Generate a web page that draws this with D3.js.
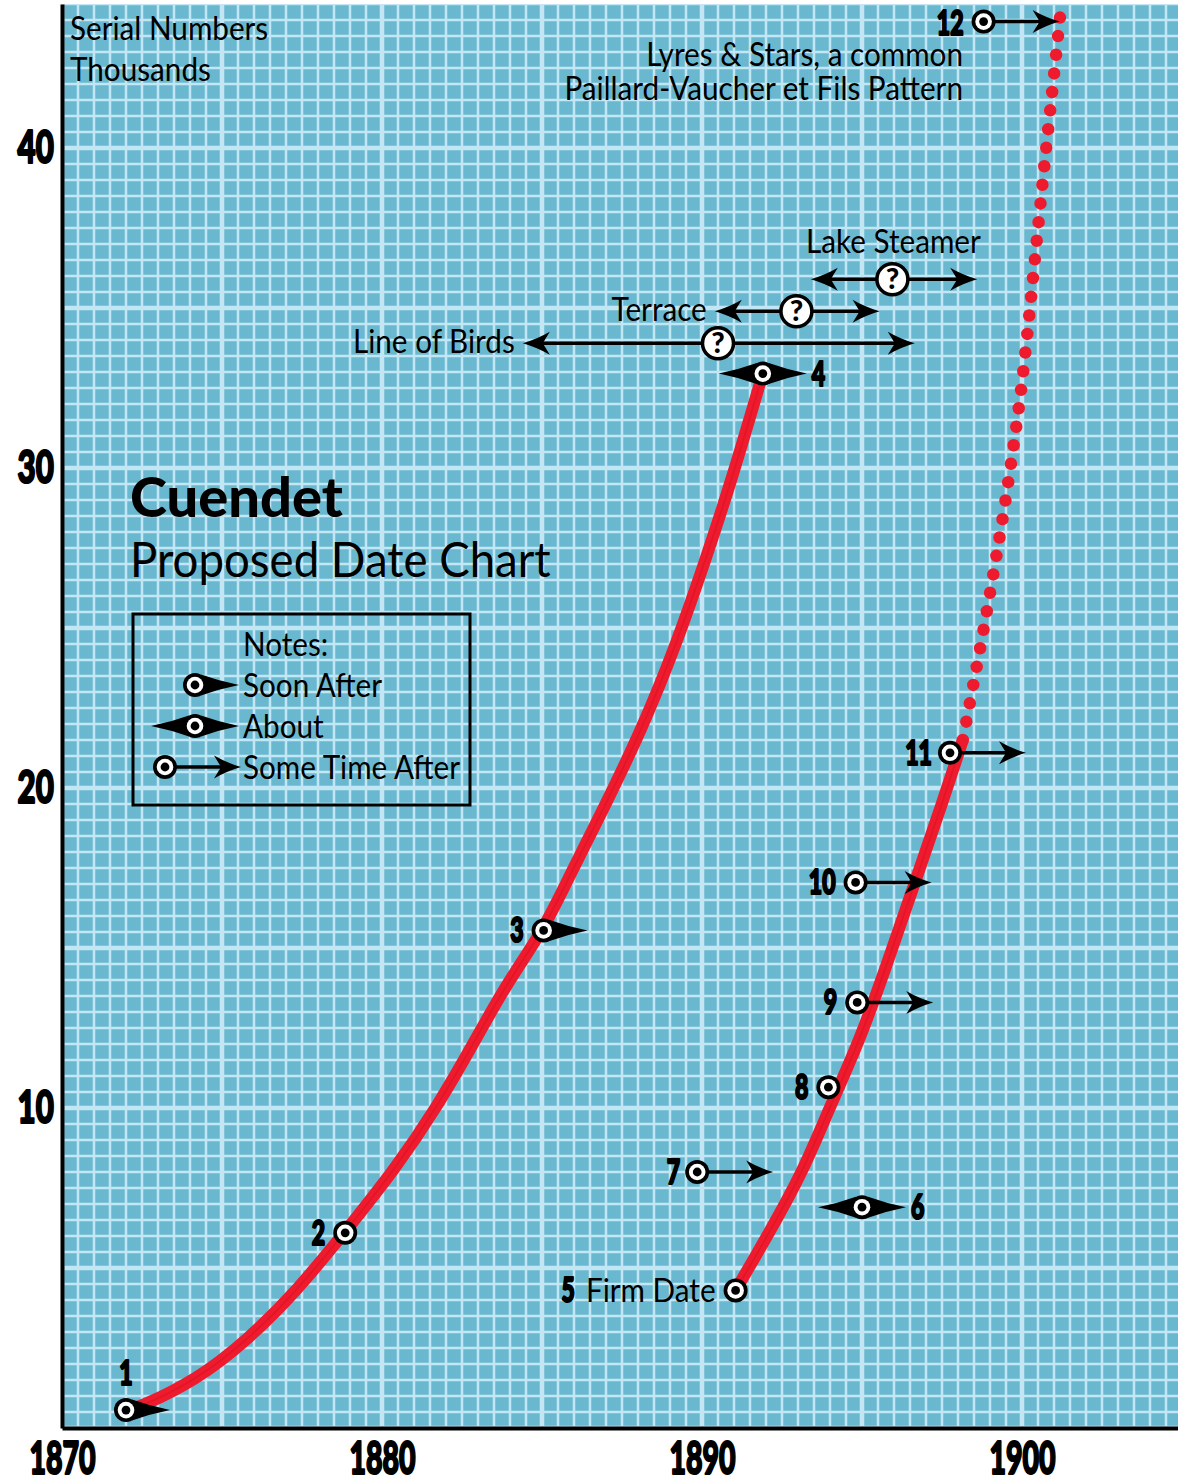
<!DOCTYPE html>
<html>
<head>
<meta charset="utf-8">
<script src="https://cdn.jsdelivr.net/npm/d3@7"></script>
<style>
  body { margin: 0; background: #fff; }
  svg { display: block; }
  text { font-family: Lato, "Open Sans", sans-serif; fill: #000; }
  .heavy { stroke: #000; stroke-width: 2.2; stroke-linejoin: round; }
</style>
</head>
<body>
<svg id="chart" width="1178" height="1484"></svg>
<script>
// x = year, y = serial number in thousands
const yearTicks = [1870, 1880, 1890, 1900];
const serialTicks = [10, 20, 30, 40];

// dated examples (circles)
const pointLabels = ['1', '2', '3', '4', '5', '6', '7', '8', '9', '10', '11', '12'];
const pointYears = [1872.0, 1878.85, 1885.05, 1891.9, 1891.05, 1895.0, 1889.85, 1893.95, 1894.85, 1894.8, 1897.75, 1898.8];
const pointSerials = [0.56, 6.1, 15.55, 32.95, 4.3, 6.9, 8.0, 10.65, 13.3, 17.05, 21.1, 43.95];
const pointNotes = ['soon', 'none', 'soon', 'about', 'firm', 'about', 'later', 'none', 'later', 'later', 'later', 'later'];

// undated patterns (question marks)
const patternNames = ['Line of Birds', 'Terrace', 'Lake Steamer'];
const patternYears = [1890.5, 1892.95, 1895.95];
const patternSerials = [33.9, 34.9, 35.9];
const patternFrom = [1884.4, 1890.4, 1893.4];
const patternTo = [1896.65, 1895.55, 1898.6];

// proposed curves
const curveAYears = [1872.1, 1872.45, 1874.2, 1875.8, 1877.35, 1878.85, 1880.45, 1881.7, 1882.85, 1883.9, 1885.05, 1885.9, 1886.9, 1888.15, 1889.2, 1890.1, 1890.95, 1891.9];
const curveASerials = [0.58, 0.66, 1.5, 2.75, 4.3, 6.13, 8.15, 10.0, 12.0, 13.9, 15.56, 17.34, 19.3, 21.9, 24.5, 27.1, 29.7, 32.95];
const curveBYears = [1891.05, 1892.1, 1893.15, 1894.0, 1894.95, 1895.85, 1896.6, 1897.55, 1898.15];
const curveBSerials = [4.3, 6.1, 8.0, 10.05, 12.15, 14.7, 16.9, 19.65, 21.5];
const curveCYears = [1898.15, 1898.8, 1899.4, 1899.65, 1900.0, 1900.35, 1900.7, 1900.95, 1901.2];
const curveCSerials = [21.5, 24.9, 28.4, 30.1, 32.5, 36.0, 39.5, 41.8, 44.2];

const legendNotes = ['soon', 'about', 'later'];
const legendTexts = ['Soon After', 'About', 'Some Time After'];

const svg = d3.select('#chart');
const plotLeft = 62, plotBottom = 1428, plotTop = 4;
const x = d3.scaleLinear().domain([1870, 1905]).range([plotLeft, plotLeft + 35 * 32]);
const y = d3.scaleLinear().domain([0, (plotBottom - plotTop) / 32]).range([plotBottom, plotTop]);

// narrow text, to get close to the condensed humanist face of the original
function label (parent, px, py, str, o = {}) {
  const g = parent.append('g')
    .attr('transform', `translate(${px},${py}) scale(${o.sx || 0.9},1)`);
  return g.append('text')
    .attr('class', o.cls || null)
    .attr('text-anchor', o.anchor || 'start')
    .attr('font-size', o.size || 33)
    .attr('font-weight', o.weight || 'normal')
    .text(str);
}

svg.append('defs').append('clipPath').attr('id', 'plot')
  .append('rect').attr('x', plotLeft).attr('y', plotTop).attr('width', 1200).attr('height', plotBottom - plotTop);

const plot = svg.append('g').attr('clip-path', 'url(#plot)');
plot.append('rect')
  .attr('x', plotLeft).attr('y', plotTop).attr('width', 1200).attr('height', plotBottom - plotTop)
  .attr('fill', '#6ab8cf');

// grid, every half year / 500 serials, heavier each 5
const gridColor = '#c3e6f5';
const xs = d3.range(1870, 1905.01, 0.5);
const ys = d3.range(0, 45, 0.5);
plot.append('g').selectAll('line').data(xs).join('line')
  .attr('x1', d => x(d)).attr('x2', d => x(d))
  .attr('y1', plotTop).attr('y2', plotBottom)
  .attr('stroke', gridColor)
  .attr('stroke-width', d => d % 5 === 0 ? 4.5 : 2.5);
plot.append('g').selectAll('line').data(ys).join('line')
  .attr('y1', d => y(d)).attr('y2', d => y(d))
  .attr('x1', plotLeft).attr('x2', 1200)
  .attr('stroke', gridColor)
  .attr('stroke-width', d => d % 5 === 0 ? 4.5 : 2.5);

// curves
const red = '#ee1a2d';
const line = d3.line().x(d => x(d[0])).y(d => y(d[1])).curve(d3.curveBasis);
const curveA = d3.zip(curveAYears, curveASerials);
const curveB = d3.zip(curveBYears, curveBSerials);
const curveC = d3.zip(curveCYears, curveCSerials);
[curveA, curveB].forEach(c => {
  plot.append('path').attr('d', line(c))
    .attr('fill', 'none').attr('stroke', red).attr('stroke-width', 12);
  plot.append('path').attr('d', line(c))
    .attr('fill', 'none').attr('stroke', '#d9121f').attr('stroke-width', 1.5).attr('opacity', 0.6);
});
plot.append('path').attr('d', line(curveC))
  .attr('fill', 'none').attr('stroke', red).attr('stroke-width', 12.5)
  .attr('stroke-linecap', 'round').attr('stroke-dasharray', '0 18.7')
  .attr('stroke-dashoffset', -18.7);

// marker glyphs
const dart = 'M6,-10.5 Q24,-4 44,0 Q24,4 6,10.5 Z';
const head = 'M76,0 Q62,-4 49,-11.5 L56,0 L49,11.5 Q62,4 76,0 Z';

function drawCircle (g) {
  g.append('circle').attr('r', 12).attr('fill', '#000');
  g.append('circle').attr('r', 8.3).attr('fill', '#fff');
  g.append('circle').attr('r', 4.4).attr('fill', '#000');
}

function drawNote (g, note) {
  if (note === 'soon' || note === 'about') {
    g.append('path').attr('d', dart).attr('fill', '#000');
  }
  if (note === 'about') {
    g.append('path').attr('d', dart).attr('fill', '#000').attr('transform', 'scale(-1,1)');
  }
  if (note === 'later') {
    g.append('line').attr('x1', 10).attr('x2', 60).attr('stroke', '#000').attr('stroke-width', 3.5);
    g.append('path').attr('d', head).attr('fill', '#000');
  }
  drawCircle(g);
}

// question-mark patterns with their ranges
const pats = svg.append('g').selectAll('g').data(patternNames).join('g');
pats.each(function (name, i) {
  const g = d3.select(this);
  const cy = y(patternSerials[i]);
  const x0 = x(patternFrom[i]), x1 = x(patternTo[i]);
  g.append('line').attr('x1', x0 + 10).attr('x2', x1 - 10).attr('y1', cy).attr('y2', cy)
    .attr('stroke', '#000').attr('stroke-width', 3.5);
  g.append('path').attr('d', head).attr('fill', '#000')
    .attr('transform', `translate(${x1 - 76},${cy})`);
  g.append('path').attr('d', head).attr('fill', '#000')
    .attr('transform', `translate(${x0 + 76},${cy}) scale(-1,1)`);
  g.append('circle').attr('cx', x(patternYears[i])).attr('cy', cy).attr('r', 15.5)
    .attr('fill', '#fff').attr('stroke', '#000').attr('stroke-width', 3.5);
  g.append('text').attr('x', x(patternYears[i])).attr('y', cy + 10)
    .attr('text-anchor', 'middle').attr('font-size', 29).attr('font-weight', 900)
    .text('?');
  if (i === 2) {
    // Lake Steamer sits above its arrow
    label(g, 806, cy - 26, name);
  } else {
    label(g, x0 - 8, cy + 10, name, { anchor: 'end' });
  }
});

// dated points
const labelPos = {
  '1': [0, -25, 'middle'], '4': [49, 12, 'start'], '6': [49, 12, 'start'],
  '7': [-17, 12, 'end'], '11': [-18, 12, 'end'], '12': [-20, 13, 'end']
};
const numStyle = { size: 35, weight: 900, sx: 0.66, cls: 'heavy' };
const pts = svg.append('g').selectAll('g').data(pointLabels).join('g')
  .attr('transform', (d, i) => `translate(${x(pointYears[i])},${y(pointSerials[i])})`);
pts.each(function (name, i) {
  const g = d3.select(this);
  drawNote(g, pointNotes[i]);
  const p = labelPos[name] || [-20, 12, 'end'];
  if (pointNotes[i] === 'firm') {
    const t = label(g, -20, 12, 'Firm Date', { anchor: 'end' });
    const w = t.node().getComputedTextLength() * 0.9;
    label(g, -20 - w - 11, 12, name, { ...numStyle, anchor: 'end' });
  } else {
    label(g, p[0], p[1], name, { ...numStyle, anchor: p[2] });
  }
});

// axes
const xAxis = svg.append('g').attr('transform', `translate(0,${plotBottom})`)
  .call(d3.axisBottom(x).tickValues(yearTicks).tickFormat(d3.format('d'))
    .tickSize(0).tickSizeOuter(0).tickPadding(13));
xAxis.select('.domain').attr('stroke', '#000').attr('stroke-width', 4);
xAxis.selectAll('text')
  .attr('class', 'heavy')
  .attr('font-family', null).attr('font-size', 46).attr('font-weight', 900)
  .attr('fill', '#000').attr('dy', '0.72em').attr('transform', 'scale(0.62,1)');

const yAxis = svg.append('g').attr('transform', `translate(${plotLeft},0)`)
  .call(d3.axisLeft(y).tickValues(serialTicks).tickSize(0).tickSizeOuter(0));
yAxis.select('.domain').attr('stroke', '#000').attr('stroke-width', 4);
yAxis.selectAll('text')
  .attr('class', 'heavy')
  .attr('font-family', null).attr('font-size', 46).attr('font-weight', 900)
  .attr('fill', '#000').attr('x', -12).attr('transform', 'scale(0.68,1)');

// texts
const notes = svg.append('g');
label(notes, 70, 40, 'Serial Numbers');
label(notes, 70, 81, 'Thousands');
label(notes, 963, 66, 'Lyres & Stars, a common', { anchor: 'end' });
label(notes, 963, 100, 'Paillard-Vaucher et Fils Pattern', { anchor: 'end' });
label(notes, 130, 517, 'Cuendet', { size: 56, weight: 900, sx: 1 });
label(notes, 130, 577, 'Proposed Date Chart', { size: 48, sx: 0.95 });

// legend
const legend = svg.append('g').attr('transform', 'translate(133,614)');
legend.append('rect').attr('width', 337).attr('height', 191)
  .attr('fill', 'none').attr('stroke', '#000').attr('stroke-width', 3);
label(legend, 110, 42, 'Notes:');
legendNotes.forEach((note, i) => {
  const g = legend.append('g')
    .attr('transform', `translate(${note === 'later' ? 32 : 62},${71 + i * 41})`);
  drawNote(g, note);
  label(legend, 110, 83 + i * 41, legendTexts[i]);
});
</script>
</body>
</html>
